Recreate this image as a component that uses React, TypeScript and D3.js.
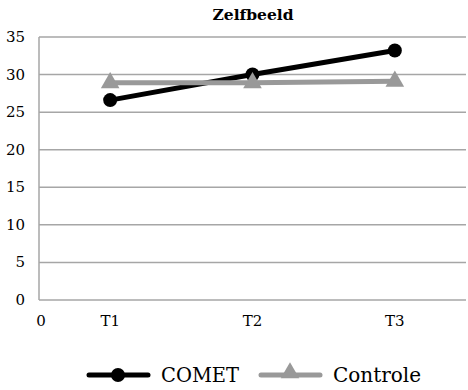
import React from "react";
import * as d3 from "d3";

const categories = ["T1", "T2", "T3"];
const cometValues = [26.6, 30.0, 33.2];
const controleValues = [28.9, 28.9, 29.1];
const yTicks = [0, 5, 10, 15, 20, 25, 30, 35];
const title = "Zelfbeeld";
const seriesNames = ["COMET", "Controle"];

const W = 468, H = 390;
const m = { left: 39, right: 2, top: 37, bottom: 90 };

export default function App() {
  const x = d3.scaleBand<string>().domain(categories).range([m.left, W - m.right]).padding(0);
  const y = d3.scaleLinear().domain([0, 35]).range([H - m.bottom, m.top]);
  const cx = (c: string) => (x(c) as number) + x.bandwidth() / 2;
  const line = d3.line<number>().x((_, i) => cx(categories[i])).y((d) => y(d));
  const tri = d3.symbol().type(d3.symbolTriangle).size(150);
  const font = "DejaVu Serif";
  return (
    <svg width={W} height={H} style={{ position: "absolute", left: 0, top: 0, fontFamily: font }}>
      <rect width={W} height={H} fill="#fff" />
      <text x={253} y={20} textAnchor="middle" fontWeight="bold" fontSize={15.5}>{title}</text>
      {yTicks.map((t) => (
        <g key={t}>
          <line x1={m.left} x2={W - m.right} y1={y(t)} y2={y(t)} stroke="#a6a6a6" strokeWidth={1.5} />
          <text x={25} y={y(t) + 5} textAnchor="end" fontSize={15}>{t}</text>
        </g>
      ))}
      <line x1={m.left} x2={m.left} y1={y(35)} y2={y(0)} stroke="#a6a6a6" strokeWidth={1.5} />
      <text x={m.left + 2} y={326} textAnchor="middle" fontSize={15}>0</text>
      {categories.map((c) => (
        <text key={c} x={cx(c)} y={326} textAnchor="middle" fontSize={15}>{c}</text>
      ))}
      <path d={line(cometValues) || ""} fill="none" stroke="#000" strokeWidth={5} />
      {cometValues.map((v, i) => (
        <circle key={i} cx={cx(categories[i])} cy={y(v)} r={7} fill="#000" />
      ))}
      <path d={line(controleValues) || ""} fill="none" stroke="#999" strokeWidth={5} />
      {controleValues.map((v, i) => (
        <path key={i} d={tri() || ""} transform={`translate(${cx(categories[i])},${y(v)})`} fill="#999" />
      ))}
      <g>
        <line x1={89} x2={148} y1={375} y2={375} stroke="#000" strokeWidth={5} strokeLinecap="round" />
        <circle cx={118} cy={375} r={7} fill="#000" />
        <text x={161} y={382} fontSize={19.5}>{seriesNames[0]}</text>
        <line x1={261} x2={320} y1={375} y2={375} stroke="#999" strokeWidth={5} strokeLinecap="round" />
        <path d={tri() || ""} transform={`translate(290,373)`} fill="#999" />
        <text x={333} y={382} fontSize={20}>{seriesNames[1]}</text>
      </g>
    </svg>
  );
}
